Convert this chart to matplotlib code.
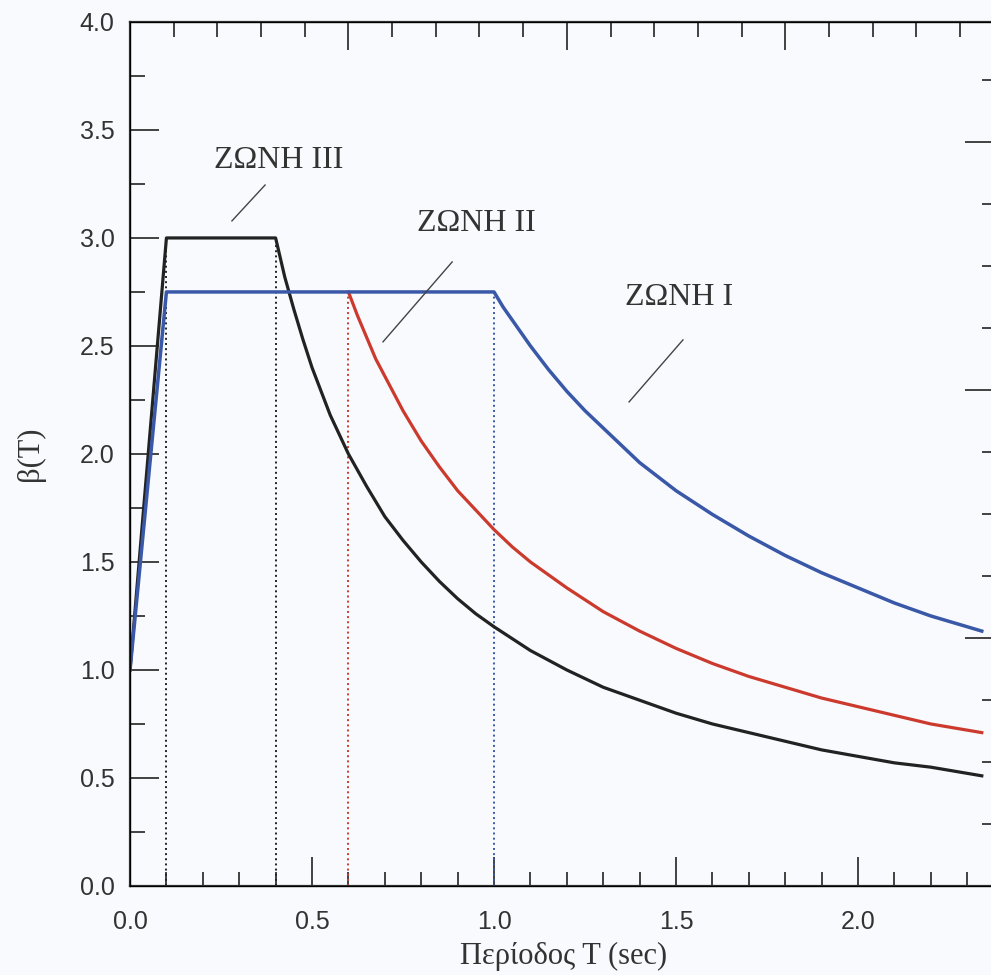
import matplotlib.pyplot as plt
from matplotlib.ticker import MultipleLocator

# Zone III (black)
t_zone3 = [0.0, 0.1, 0.4, 0.425, 0.45, 0.475, 0.5, 0.55, 0.6, 0.65, 0.7, 0.75, 0.8, 0.85,
           0.9, 0.95, 1.0, 1.1, 1.2, 1.3, 1.4, 1.5, 1.6, 1.7, 1.8, 1.9, 2.0, 2.1, 2.2, 2.34]
b_zone3 = [1.0, 3.0, 3.0, 2.82, 2.67, 2.53, 2.40, 2.18, 2.00, 1.85, 1.71, 1.60, 1.50, 1.41,
           1.33, 1.26, 1.20, 1.09, 1.00, 0.92, 0.86, 0.80, 0.75, 0.71, 0.67, 0.63, 0.60, 0.57, 0.55, 0.51]

# Zone II (red)
t_zone2 = [0.6, 0.625, 0.65, 0.675, 0.7, 0.75, 0.8, 0.85, 0.9, 0.95, 1.0, 1.05, 1.1, 1.2,
           1.3, 1.4, 1.5, 1.6, 1.7, 1.8, 1.9, 2.0, 2.1, 2.2, 2.34]
b_zone2 = [2.75, 2.64, 2.54, 2.44, 2.36, 2.20, 2.06, 1.94, 1.83, 1.74, 1.65, 1.57, 1.50, 1.38,
           1.27, 1.18, 1.10, 1.03, 0.97, 0.92, 0.87, 0.83, 0.79, 0.75, 0.71]

# Zone I (blue)
t_zone1 = [0.0, 0.1, 1.0, 1.025, 1.05, 1.075, 1.1, 1.15, 1.2, 1.25, 1.3, 1.35, 1.4, 1.5,
           1.6, 1.7, 1.8, 1.9, 2.0, 2.1, 2.2, 2.34]
b_zone1 = [1.0, 2.75, 2.75, 2.68, 2.62, 2.56, 2.50, 2.39, 2.29, 2.20, 2.12, 2.04, 1.96, 1.83,
           1.72, 1.62, 1.53, 1.45, 1.38, 1.31, 1.25, 1.18]

# corner periods (dotted verticals)
corner_t = [0.1, 0.4, 0.6, 1.0]
corner_b = [3.0, 3.0, 2.75, 2.75]
corner_col = ['#222222', '#222222', '#cc3a2e', '#3a58a8']

# zone labels: text position, leader line start / end
zone_names = ['ΖΩΝΗ III', 'ΖΩΝΗ II', 'ΖΩΝΗ I']
label_xy = [(0.409, 3.36), (0.951, 3.065), (1.508, 2.722)]
leader_from = [(0.371, 3.245), (0.885, 2.889), (1.519, 2.528)]
leader_to = [(0.280, 3.079), (0.695, 2.519), (1.371, 2.241)]

fig = plt.figure(figsize=(9.91, 9.75), dpi=100, facecolor='#f8fafd')
ax = fig.add_axes([0.1312, 0.0913, 0.8742, 0.8862])
ax.set_facecolor('#f8fafd')

# dotted lines at the corner periods
for t, b, c in zip(corner_t, corner_b, corner_col):
    ax.plot([t, t], [0, b], color=c, linestyle=':', linewidth=1.4)

ax.plot(t_zone3, b_zone3, color='#222222', linewidth=2.3)
ax.plot(t_zone2, b_zone2, color='#cc3a2e', linewidth=2.3)
ax.plot(t_zone1, b_zone1, color='#3a58a8', linewidth=2.5)

for name, (tx, ty), p0, p1 in zip(zone_names, label_xy, leader_from, leader_to):
    ax.text(tx, ty, name, ha='center', va='center', fontsize=23,
            family='Liberation Serif', color='#333333')
    ax.plot([p0[0], p1[0]], [p0[1], p1[1]], color='#444444', linewidth=1.0)

ax.set_xlim(0, 2.38)
ax.set_ylim(0, 4.0)
ax.xaxis.set_major_locator(MultipleLocator(0.5))
ax.xaxis.set_minor_locator(MultipleLocator(0.1))
ax.yaxis.set_major_locator(MultipleLocator(0.5))
ax.yaxis.set_minor_locator(MultipleLocator(0.25))
ax.tick_params(which='both', direction='in', top=False, right=False, width=1.3, color='#333333')
ax.tick_params(axis='x', which='major', length=21, pad=17, labelsize=18)
ax.tick_params(axis='x', which='minor', length=10)
ax.tick_params(axis='y', which='major', length=21, pad=11, labelsize=18)
ax.tick_params(axis='y', which='minor', length=11)
for lab in ax.get_xticklabels() + ax.get_yticklabels():
    lab.set_family('Liberation Sans')
    lab.set_color('#333333')
ax.xaxis.set_major_formatter(plt.FormatStrFormatter('%.1f'))
ax.yaxis.set_major_formatter(plt.FormatStrFormatter('%.1f'))
for s in ax.spines.values():
    s.set_linewidth(1.6)
    s.set_color('#333333')

# top and right ticks use a different scale in the picture
top = ax.twiny()
top.set_xlim(0, 2.38 / 0.12)
top.xaxis.set_major_locator(MultipleLocator(5))
top.xaxis.set_minor_locator(MultipleLocator(1))
top.tick_params(which='both', direction='in', labeltop=False, width=1.3, color='#333333')
top.tick_params(which='major', length=20)
top.tick_params(which='minor', length=11)
right = ax.twinx()
right.set_ylim(0, 13.94)
right.yaxis.set_major_locator(MultipleLocator(4))
right.yaxis.set_minor_locator(MultipleLocator(1))
right.tick_params(which='both', direction='in', labelright=False, width=1.3, color='#333333')
right.tick_params(which='major', length=22)
right.tick_params(which='minor', length=10)

ax.set_xlabel('Περίοδος T (sec)', fontsize=22, family='Liberation Serif', color='#333333', labelpad=6)
ax.set_ylabel('β(T)', fontsize=22, family='Liberation Serif', color='#333333', labelpad=25)

fig.savefig('out.png', dpi=100, facecolor=fig.get_facecolor())
